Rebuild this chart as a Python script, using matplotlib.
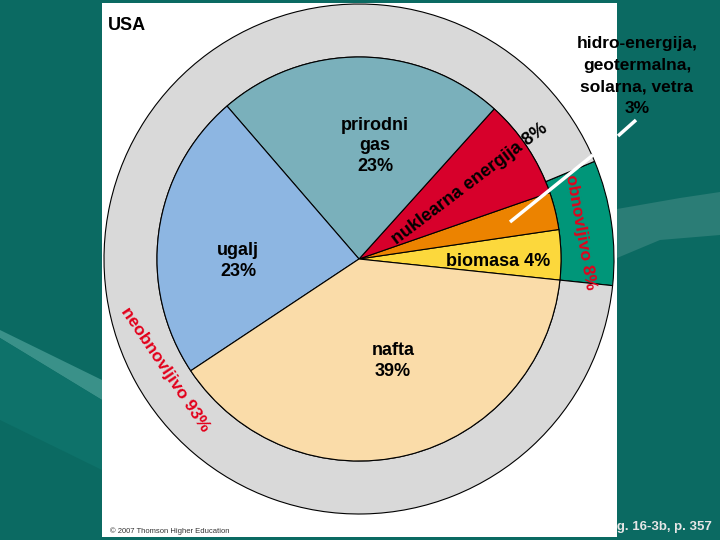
import matplotlib
matplotlib.use("Agg")
import matplotlib.pyplot as plt
from matplotlib.patches import Rectangle, Polygon

# unutarnji krug, redom suprotno od kazaljke pocevsi od ruba biomasa/nafta
izvori = ["biomasa", "hidro-energija, geotermalna, solarna, vetra",
          "nuklearna energija", "prirodni gas", "ugalj", "nafta"]
udjeli = [4, 3, 8, 23, 23, 39]
boje = ["#fcd83c", "#ec8300", "#d7002b", "#7ab0bb", "#8db6e2", "#fadca9"]

# vanjski prsten
skupine = ["obnovljivo", "neobnovljivo"]
udjeli_skupine = [8, 93]
boje_skupine = ["#009679", "#d9d9d9"]

TEAL = "#0b6a62"
ARIAL = ["Liberation Sans", "DejaVu Sans"]

fig = plt.figure(figsize=(7.2, 5.4), dpi=100, facecolor=TEAL)
ax = fig.add_axes([0, 0, 1, 1])
ax.set_facecolor(TEAL)

# svjetlije pruge u pozadini slajda
ax.add_patch(Polygon([(0, 330), (102, 380), (102, 400), (0, 338)],
                     closed=True, fc="#3a9189", ec="none", zorder=0))
ax.add_patch(Polygon([(0, 338), (102, 400), (102, 470), (0, 420)],
                     closed=True, fc="#0e726a", ec="none", zorder=0))
ax.add_patch(Polygon([(617, 209), (680, 198), (720, 192), (720, 235), (660, 240), (617, 258)],
                     closed=True, fc="#2b7d76", ec="none", zorder=0))

# bijela podloga slike
ax.add_patch(Rectangle((102, 3), 515, 534, fc="white", ec="none", zorder=1))

cx, cy = 359, 259
ax.pie(udjeli_skupine, colors=boje_skupine, radius=255, center=(cx, cy),
       startangle=6, counterclock=False,
       wedgeprops=dict(width=53, edgecolor="black", linewidth=0.8, zorder=2))
ax.pie(udjeli, colors=boje, radius=202, center=(cx, cy),
       startangle=6, counterclock=False,
       wedgeprops=dict(edgecolor="black", linewidth=0.8, zorder=3))

ax.set_xlim(0, 720)
ax.set_ylim(540, 0)
ax.set_aspect("auto")
ax.axis("off")

lbl = dict(family=ARIAL, weight="bold", fontsize=13, color="black",
           ha="center", va="center", linespacing=1.3, zorder=5)
ax.text(375, 146, "prirodni\ngas\n23%", **lbl)
ax.text(238, 261, "ugalj\n23%", **lbl)
ax.text(393, 361, "nafta\n39%", **lbl)
ax.text(498, 261, "biomasa 4%", **lbl)
ax.text(470, 184, "nuklearna energija 8%", rotation=37, rotation_mode="anchor", **lbl)

red = dict(family=ARIAL, weight="bold", fontsize=12.5, color="#e3001b",
           ha="center", va="center", rotation_mode="anchor", zorder=5)
ax.text(165, 370, "neobnovljivo 93%", rotation=-56, **red)
ax.text(581, 232, "obnovljivo 8%", rotation=-80, **red)

ax.text(108, 26, "USA", family=ARIAL, weight="bold", fontsize=13,
        ha="left", va="center", zorder=5)
ax.text(637, 76, "hidro-energija,\ngeotermalna,\nsolarna, vetra\n3%",
        family=ARIAL, weight="bold", fontsize=12.5, ha="center", va="center",
        linespacing=1.55, zorder=5)

# pokazivac na narancasti isjecak
ax.plot([510, 593], [222, 155], color="white", lw=2.5, zorder=6, solid_capstyle="butt")
ax.plot([618, 636], [136, 120], color="white", lw=2.5, zorder=6, solid_capstyle="butt")

ax.text(110, 531, "\u00a9 2007 Thomson Higher Education", family=ARIAL,
        fontsize=5.5, color="#333333", ha="left", va="center", zorder=5)
ax.text(712, 527, "Fig. 16-3b, p. 357", family=ARIAL, weight="bold",
        fontsize=9.5, color="#e6e6e6", ha="right", va="center", zorder=0.5)

fig.savefig("out.png", dpi=100, facecolor=TEAL)
